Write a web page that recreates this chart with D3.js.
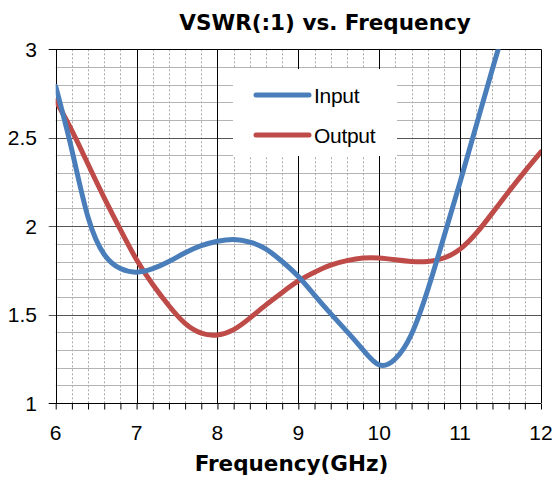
<!DOCTYPE html>
<html>
<head>
<meta charset="utf-8">
<script src="https://cdn.jsdelivr.net/npm/d3@7"></script>
<style>
  body { margin: 0; background: #fff; }
  svg { display: block; }
</style>
</head>
<body>
<div id="chart"></div>
<script>
const width = 556
const height = 477
const margin = ({ top: 49.3, right: 15, bottom: 74, left: 55.7 })

// data
const freq = [6.0, 6.2, 6.4, 6.6, 6.8, 7.0, 7.2, 7.4, 7.6, 7.8, 8.0, 8.2, 8.4, 8.6, 8.8,
  9.0, 9.2, 9.4, 9.6, 9.8, 10.0, 10.2, 10.4, 10.6, 10.8, 11.0, 11.2, 11.4, 11.6, 11.8, 12.0]
const inputVswr = [2.79, 2.43, 2.05, 1.84, 1.76, 1.74, 1.76, 1.80, 1.85, 1.89, 1.915, 1.925, 1.91, 1.87, 1.80,
  1.715, 1.61, 1.505, 1.405, 1.30, 1.215, 1.25, 1.39, 1.64, 1.94, 2.25, 2.57, 2.89, 3.2, 3.5, 3.8]
const outputVswr = [2.71, 2.54, 2.35, 2.16, 1.98, 1.81, 1.67, 1.55, 1.45, 1.395, 1.385, 1.415, 1.48, 1.555, 1.625,
  1.69, 1.74, 1.78, 1.805, 1.82, 1.82, 1.81, 1.80, 1.80, 1.82, 1.87, 1.96, 2.075, 2.195, 2.31, 2.42]
const seriesNames = ['Input', 'Output']
const seriesColors = ['#4a7ebb', '#be4b48']
const xTicks = [6, 7, 8, 9, 10, 11, 12]
const yTicks = [1, 1.5, 2, 2.5, 3]

const labelFont = "'Liberation Sans', Arial, sans-serif"
const titleFont = "'DejaVu Sans', Verdana, sans-serif"

const x = d3.scaleLinear().domain([6, 12]).range([margin.left, 541])
const y = d3.scaleLinear().domain([1, 3]).range([403, margin.top])

const svg = d3.select('#chart').append('svg')
  .attr('width', width)
  .attr('height', height)

svg.append('defs').append('clipPath').attr('id', 'plot-clip')
  .append('rect')
  .attr('x', x(6)).attr('y', y(3))
  .attr('width', x(12) - x(6)).attr('height', y(1) - y(3))

const minorX = d3.range(6, 12.001, 0.2).map(d => +d.toFixed(1))
const minorY = d3.range(1, 3.001, 0.1).map(d => +d.toFixed(1))

const grid = svg.append('g')

// minor vertical dotted lines
grid.selectAll('.vminor')
  .data(minorX.filter(d => Math.abs(d - Math.round(d)) > 0.01))
  .enter().append('line')
  .attr('x1', d => Math.round(x(d)) + 0.5).attr('x2', d => Math.round(x(d)) + 0.5)
  .attr('y1', y(3)).attr('y2', y(1))
  .attr('stroke', '#aaa')
  .attr('stroke-dasharray', '2,2')

// minor horizontal lines
grid.selectAll('.hminor')
  .data(minorY.filter(d => Math.abs(d * 2 - Math.round(d * 2)) > 0.01))
  .enter().append('line')
  .attr('x1', x(6)).attr('x2', x(12))
  .attr('y1', d => Math.round(y(d)) + 0.5).attr('y2', d => Math.round(y(d)) + 0.5)
  .attr('stroke', '#b4b4b4')

// major horizontal lines, extended left as ticks
grid.selectAll('.hmajor')
  .data(yTicks)
  .enter().append('line')
  .attr('x1', x(6) - 7).attr('x2', x(12))
  .attr('y1', d => Math.round(y(d)) + 0.5).attr('y2', d => Math.round(y(d)) + 0.5)
  .attr('stroke', d => (d === 1 || d === 3) ? '#000' : '#555')

// major vertical lines
grid.selectAll('.vmajor')
  .data(xTicks)
  .enter().append('line')
  .attr('x1', d => Math.round(x(d)) + 0.5).attr('x2', d => Math.round(x(d)) + 0.5)
  .attr('y1', y(3)).attr('y2', y(1))
  .attr('stroke', '#000')

// x axis ticks every 0.2
svg.append('g')
  .attr('transform', 'translate(0,' + (Math.round(y(1)) + 0.5) + ')')
  .call(d3.axisBottom(x).tickValues(minorX).tickSize(6).tickFormat(''))
  .call(g => g.select('.domain').remove())
  .call(g => g.selectAll('.tick line').attr('stroke', '#000'))

// y tick labels
svg.append('g')
  .selectAll('text')
  .data(yTicks)
  .enter().append('text')
  .attr('x', 37)
  .attr('y', d => y(d) + 7.5)
  .attr('text-anchor', 'end')
  .style('font-family', labelFont)
  .style('font-size', '21px')
  .text(d => d)

// x tick labels
svg.append('g')
  .selectAll('text')
  .data(xTicks)
  .enter().append('text')
  .attr('x', d => x(d))
  .attr('y', 440)
  .attr('text-anchor', 'middle')
  .style('font-family', labelFont)
  .style('font-size', '21px')
  .text(d => d)

// legend box (sits behind the lines)
svg.append('rect')
  .attr('x', 233).attr('y', 69)
  .attr('width', 164).attr('height', 87)
  .attr('fill', '#fff')

// series
const line = d3.line()
  .x(d => x(d[0]))
  .y(d => y(d[1]))
  .curve(d3.curveNatural)

const allSeries = [inputVswr, outputVswr]
svg.append('g')
  .attr('clip-path', 'url(#plot-clip)')
  .selectAll('path')
  .data(allSeries.slice().reverse())
  .enter().append('path')
  .attr('d', vals => line(freq.map((f, i) => [f, vals[i]])))
  .attr('fill', 'none')
  .attr('stroke', (d, i) => seriesColors[1 - i])
  .attr('stroke-width', 5)
  .attr('stroke-linejoin', 'round')
  .attr('stroke-linecap', 'round')

// legend entries
const legend = svg.append('g')
seriesNames.forEach((name, i) => {
  const ly = 95 + i * 40
  legend.append('line')
    .attr('x1', 256).attr('x2', 309)
    .attr('y1', ly).attr('y2', ly)
    .attr('stroke', seriesColors[i])
    .attr('stroke-width', 5)
    .attr('stroke-linecap', 'round')
  legend.append('text')
    .attr('x', 314)
    .attr('y', ly + 7.5)
    .style('font-family', labelFont)
    .style('font-size', '21px')
    .style('letter-spacing', '-0.3px')
    .text(name)
})

// titles
svg.append('text')
  .attr('x', 325)
  .attr('y', 30)
  .attr('text-anchor', 'middle')
  .style('font-family', titleFont)
  .style('font-weight', 'bold')
  .style('font-size', '21.5px')
  .text('VSWR(:1) vs. Frequency')

svg.append('text')
  .attr('x', 291.5)
  .attr('y', 471)
  .attr('text-anchor', 'middle')
  .style('font-family', titleFont)
  .style('font-weight', 'bold')
  .style('font-size', '21.5px')
  .text('Frequency(GHz)')
</script>
</body>
</html>
